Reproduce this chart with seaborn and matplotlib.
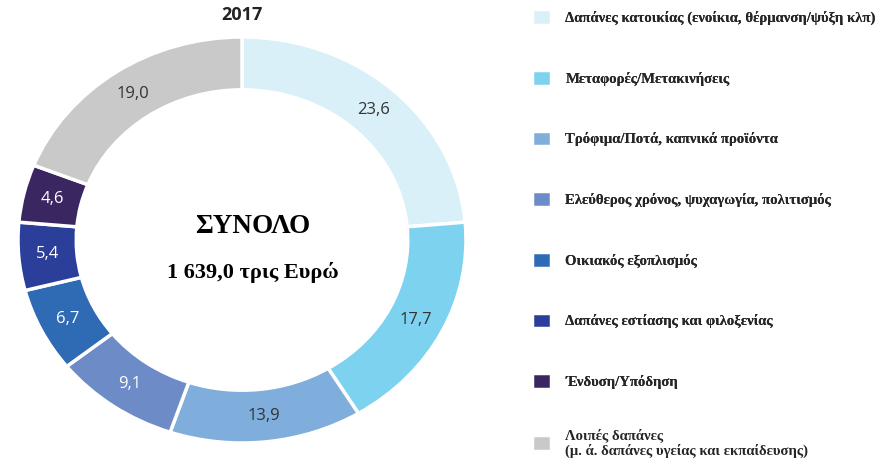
import matplotlib
matplotlib.use('Agg')
import matplotlib.pyplot as plt
from matplotlib.font_manager import FontProperties
import seaborn as sns

sns.set_theme(style='white')

categories = ['Δαπάνες κατοικίας (ενοίκια, θέρμανση/ψύξη κλπ)',
              'Μεταφορές/Μετακινήσεις',
              'Τρόφιμα/Ποτά, καπνικά προϊόντα',
              'Ελεύθερος χρόνος, ψυχαγωγία, πολιτισμός',
              'Οικιακός εξοπλισμός',
              'Δαπάνες εστίασης και φιλοξενίας',
              'Ένδυση/Υπόδηση',
              'Λοιπές δαπάνες\n(μ. ά. δαπάνες υγείας και εκπαίδευσης)']
values = [23.6, 17.7, 13.9, 9.1, 6.7, 5.4, 4.6, 19.0]
colors = ['#DAF0F8', '#7CD2EF', '#7FAEDD', '#6C8BC7',
          '#2F6AB4', '#2B3E99', '#3A2660', '#C9C9C9']
label_colors = ['#333333', '#333333', '#333333', 'white',
                'white', 'white', 'white', '#333333']

W, H = 887, 467
fig = plt.figure(figsize=(W / 100, H / 100), dpi=100)
# donut is slightly stretched horizontally in the original
ax = fig.add_axes([18 / W, 24 / H, 448 / W, 406 / H])

wedges, texts, autotexts = ax.pie(
    values, colors=colors, startangle=90, counterclock=False,
    autopct=lambda p: f'{p:.1f}'.replace('.', ','), pctdistance=0.87,
    wedgeprops=dict(width=0.26, edgecolor='white', linewidth=2.5),
    textprops=dict(fontsize=12, family='Open Sans'))
for t, c in zip(autotexts, label_colors):
    t.set_color(c)
ax.set_aspect('auto')
ax.set_xlim(-1, 1)
ax.set_ylim(-1, 1)
ax.axis('off')

ax.text(0.05, 0.065, 'ΣΥΝΟΛΟ', ha='center', va='center', fontsize=19.5,
        fontweight='bold', family='Liberation Serif', color='black')
ax.text(0.05, -0.16, '1 639,0 τρις Ευρώ', ha='center', va='center', fontsize=16,
        fontweight='bold', family='Liberation Serif', color='black')

fig.text(242 / W, 1 - 15 / H, '2017', ha='center', va='center', fontsize=13,
         fontweight='bold', family='Open Sans', color='#222222')

# legend: first 7 entries evenly spaced, the two-line last one placed separately
legend_font = FontProperties(family='Liberation Serif', weight='bold', size=10.6)
leg_kw = dict(frameon=False, handlelength=1.25, handleheight=1.25,
              handletextpad=1.0, prop=legend_font)
leg1 = fig.legend(wedges[:-1], categories[:-1], loc='upper left',
                  bbox_to_anchor=(519 / W, 1 + 4 / H), labelspacing=3.05, **leg_kw)
leg2 = fig.legend(wedges[-1:], categories[-1:], loc='center left',
                  bbox_to_anchor=(519 / W, 1 - 443 / H), **leg_kw)
fig.add_artist(leg1)

fig.savefig('out.png', dpi=100)
